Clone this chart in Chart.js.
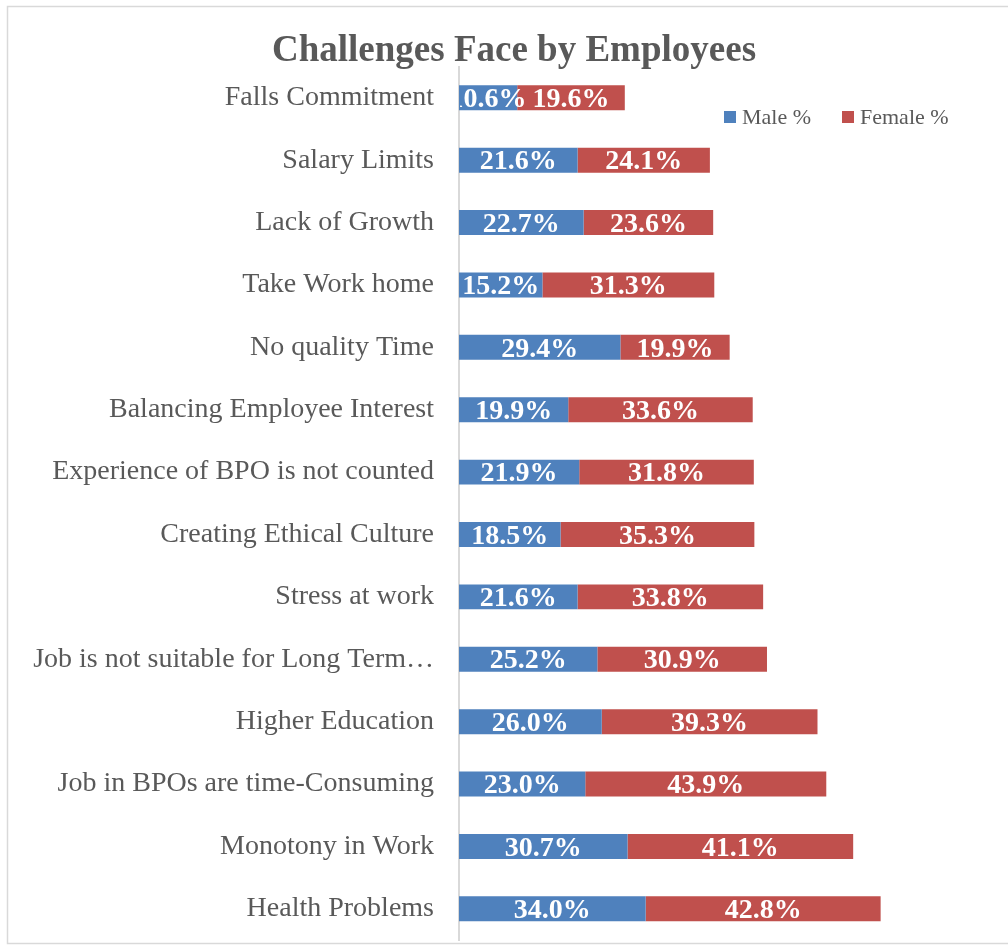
<!DOCTYPE html>
<html>
<head>
<meta charset="utf-8">
<script src="https://cdn.jsdelivr.net/npm/chart.js@4/dist/chart.umd.min.js"></script>
<style>
  html, body { margin: 0; padding: 0; background: #fff; }
  #wrap { position: relative; width: 1008px; height: 947px; }
</style>
</head>
<body>
<div id="wrap"><canvas id="c"></canvas></div>
<script>
// Challenges Face by Employees — stacked horizontal bars, male vs female %

const categories = [
    'Falls Commitment',
    'Salary Limits',
    'Lack of Growth',
    'Take Work home',
    'No quality Time',
    'Balancing Employee Interest',
    'Experience of BPO is not counted',
    'Creating Ethical Culture',
    'Stress at work',
    'Job is not suitable for Long Term\u2026',
    'Higher Education',
    'Job in BPOs are time-Consuming',
    'Monotony in Work',
    'Health Problems'
];
const malePct = [10.6, 21.6, 22.7, 15.2, 29.4, 19.9, 21.9, 18.5, 21.6, 25.2, 26.0, 23.0, 30.7, 34.0];
const femalePct = [19.6, 24.1, 23.6, 31.3, 19.9, 33.6, 31.8, 35.3, 33.8, 30.9, 39.3, 43.9, 41.1, 42.8];
const seriesNames = ['Male %', 'Female %'];

const SERIF = "'Liberation Serif', 'Times New Roman', serif";
const GREY = '#595959';

// white value labels centred in each segment, clipped to the plot area
const valueLabels = {
    id: 'valueLabels',
    afterDatasetsDraw(chart) {
        const ctx = chart.ctx, a = chart.chartArea;
        ctx.save();
        ctx.beginPath();
        ctx.rect(a.left + 1, a.top, a.right - a.left, a.bottom - a.top);
        ctx.clip();
        ctx.font = 'bold 28px ' + SERIF;
        ctx.fillStyle = '#ffffff';
        ctx.textAlign = 'center';
        ctx.textBaseline = 'middle';
        chart.data.datasets.forEach((ds, i) => {
            chart.getDatasetMeta(i).data.forEach((bar, j) => {
                const cx = (bar.x + bar.base) / 2;
                ctx.fillText(ds.data[j].toFixed(1) + '%', cx, bar.y + 2);
            });
        });
        ctx.restore();
    }
};

// legend floating inside the top right of the plot, like the original
const floatLegend = {
    id: 'floatLegend',
    afterDraw(chart) {
        const ctx = chart.ctx;
        const items = [{ x: 724 }, { x: 842 }];
        ctx.save();
        ctx.font = '22px ' + SERIF;
        ctx.textBaseline = 'middle';
        ctx.textAlign = 'left';
        chart.data.datasets.forEach((ds, i) => {
            ctx.fillStyle = ds.backgroundColor;
            ctx.fillRect(items[i].x, 111, 12, 12);
            ctx.fillStyle = GREY;
            ctx.fillText(ds.label, items[i].x + 18, 118);
        });
        ctx.restore();
    }
};

const frame = {
    id: 'frame',
    beforeDraw(chart) {
        const ctx = chart.ctx;
        ctx.save();
        ctx.fillStyle = '#fff';
        ctx.fillRect(0, 0, chart.width, chart.height);
        ctx.strokeStyle = '#d9d9d9';
        ctx.lineWidth = 1.5;
        ctx.strokeRect(7.5, 6.5, 1010, 937);
        ctx.restore();
    }
};

new Chart(document.getElementById('c'), {
    type: 'bar',
    data: {
        labels: categories,
        datasets: [
            { label: seriesNames[0], data: malePct, backgroundColor: '#4F81BD' },
            { label: seriesNames[1], data: femalePct, backgroundColor: '#C0504D' }
        ]
    },
    options: {
        indexAxis: 'y',
        responsive: true,
        maintainAspectRatio: false,
        animation: false,
        layout: { padding: { left: 20, right: 0, top: 0, bottom: 7 } },
        datasets: { bar: { categoryPercentage: 1, barPercentage: 0.4 } },
        plugins: {
            legend: { display: false },
            tooltip: { enabled: false },
            title: {
                display: true,
                text: 'Challenges Face by Employees',
                color: GREY,
                font: { family: SERIF, size: 37, weight: 'bold', lineHeight: 0.8 },
                padding: { top: 37, bottom: 0 }
            }
        },
        scales: {
            x: { stacked: true, display: false, min: 0, max: 100 },
            y: {
                stacked: true,
                grid: { display: false, drawTicks: false },
                border: { color: '#d9d9d9', width: 2 },
                ticks: { color: GREY, font: { family: SERIF, size: 28 }, padding: 25, autoSkip: false },
                afterFit(axis) {
                    axis.width = 439;
                    axis.paddingTop = 0;
                    axis.paddingBottom = 0;
                }
            }
        }
    },
    plugins: [frame, valueLabels, floatLegend]
});
</script>
</body>
</html>
